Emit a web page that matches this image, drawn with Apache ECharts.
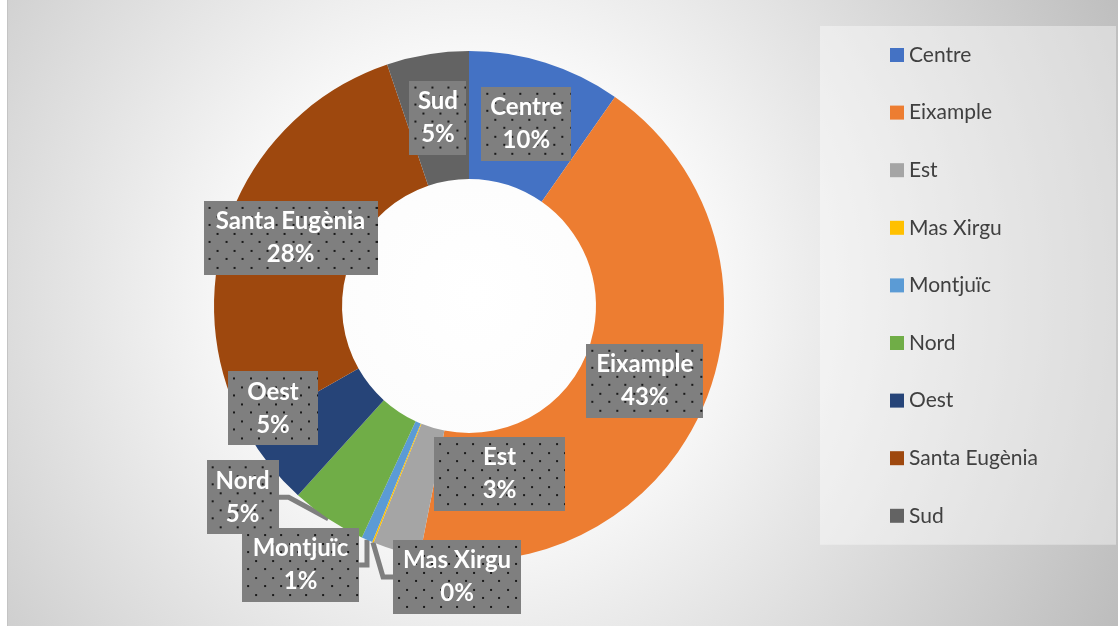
<!DOCTYPE html>
<html>
<head>
<meta charset="utf-8">
<script src="https://cdn.jsdelivr.net/npm/echarts@6/dist/echarts.min.js"></script>
<style>
  html, body { margin: 0; padding: 0; background: #fff; }
  .edge { position: absolute; left: 7px; top: 0; width: 1px; height: 626px; background: #c4c4c4; }
  .chart { position: absolute; left: 8px; top: 0; width: 1110px; height: 626px; }
</style>
</head>
<body>
<div class="edge"></div>
<div id="chart" class="chart"></div>
<script>
  // zones and their share (%)
  var zones = ['Centre', 'Eixample', 'Est', 'Mas Xirgu', 'Montjuïc', 'Nord', 'Oest', 'Santa Eugènia', 'Sud']
  var shares = [9.7, 43.4, 3.0, 0.1, 0.7, 4.8, 5.1, 28.0, 5.2]
  var colors = ['#4472c4', '#ed7d31', '#a5a5a5', '#ffc000', '#5b9bd5', '#70ad47', '#264478', '#9e480e', '#636363']

  // callout boxes: size and how far they are moved from the middle of the slice
  var boxWidth = [90, 117, 131, 128, 117, 72, 90, 174, 57]
  var boxShift = [[0, 0], [0, 0], [85, -15], [60, 94], [-92, 84], [-121, 32], [-47, -17], [0, 0], [0, 0]]
  var callout = [false, false, false, true, true, true, false, false, false]

  var CX = 461
  var CY = 306
  var R0 = 127
  var R1 = 255

  // gray box with the dotted fill
  function dottedBox (w, h) {
    var c = document.createElement('canvas')
    c.width = w
    c.height = h
    var ctx = c.getContext('2d')
    ctx.fillStyle = '#7f7f7f'
    ctx.fillRect(0, 0, w, h)
    ctx.fillStyle = '#1a1a1a'
    for (var r = 0; 6 + r * 8.5 < h; r++) {
      var y = Math.round(6 + r * 8.5)
      for (var x = 5 + (r % 2) * 8.3; x < w; x += 16.7) {
        ctx.fillRect(Math.round(x), y, 2, 2)
      }
    }
    return c
  }

  // middle angle of every slice
  var total = shares.reduce(function (a, b) { return a + b }, 0)
  var midAngle = []
  var acc = 0
  shares.forEach(function (v) {
    midAngle.push((acc + v / 2) / total * Math.PI * 2)
    acc += v
  })

  var pieData = zones.map(function (name, i) {
    return {
      name: name,
      value: shares[i],
      itemStyle: { color: colors[i] },
      label: {
        position: callout[i] ? 'outside' : 'inside',
        width: boxWidth[i],
        backgroundColor: { image: dottedBox(boxWidth[i], 74) }
      },
      labelLine: { show: callout[i] }
    }
  })

  var chart = echarts.init(document.getElementById('chart'))
  chart.setOption({
    backgroundColor: {
      type: 'radial',
      x: 0.42,
      y: 0.47,
      r: 1.15,
      colorStops: [
        { offset: 0, color: '#ffffff' },
        { offset: 0.3, color: '#fbfbfb' },
        { offset: 1, color: '#bdbdbd' }
      ]
    },
    legend: {
      orient: 'vertical',
      left: 812,
      top: 26,
      padding: [17, 70, 17, 70],
      backgroundColor: 'rgba(255,255,255,0.4)',
      itemWidth: 14,
      itemHeight: 14,
      itemGap: 33.6,
      icon: 'rect',
      selectedMode: false,
      textStyle: {
        fontFamily: 'Lato',
        fontSize: 21,
        color: '#404040',
        width: 137,
        lineHeight: 24
      },
      data: zones
    },
    series: [
      {
        type: 'pie',
        center: [CX, CY],
        radius: [R0, R1],
        startAngle: 90,
        clockwise: true,
        avoidLabelOverlap: false,
        percentPrecision: 0,
        animation: false,
        label: {
          formatter: '{b}\n{d}%',
          color: '#fff',
          fontFamily: 'Lato',
          fontWeight: 'bold',
          fontSize: 24,
          lineHeight: 33,
          padding: [8, 0, 0, 0],
          align: 'center',
          overflow: 'none',
          shadowBlur: 5,
          shadowOffsetX: 2,
          shadowOffsetY: 3,
          shadowColor: 'rgba(0,0,0,0.35)'
        },
        labelLine: {
          length: 10,
          length2: 10,
          lineStyle: { color: '#7f7f7f', width: 5 }
        },
        labelLayout: function (p) {
          var a = midAngle[p.dataIndex]
          var r = (R0 + R1) / 2
          var s = boxShift[p.dataIndex]
          return {
            x: CX + r * Math.sin(a) + s[0],
            y: CY - r * Math.cos(a) + s[1],
            align: 'center',
            verticalAlign: 'middle'
          }
        },
        data: pieData
      }
    ]
  })
</script>
</body>
</html>
